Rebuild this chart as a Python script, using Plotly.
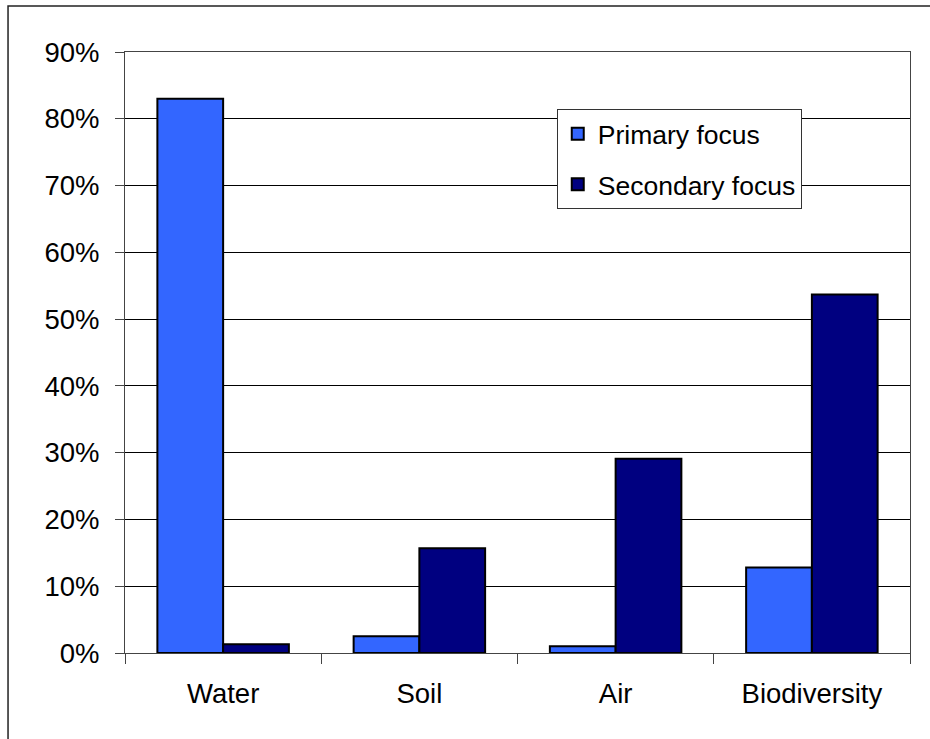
import plotly.graph_objects as go

categories = ["Water", "Soil", "Air", "Biodiversity"]
primary = [0.83, 0.025, 0.01, 0.128]
secondary = [0.013, 0.157, 0.291, 0.537]
y_ticks = [0, 0.1, 0.2, 0.3, 0.4, 0.5, 0.6, 0.7, 0.8, 0.9]
y_tick_text = ["0%", "10%", "20%", "30%", "40%", "50%", "60%", "70%", "80%", "90%"]

FONT = "Liberation Sans, Arial, sans-serif"

fig = go.Figure()
fig.add_trace(go.Bar(name="Primary focus", x=categories, y=primary,
                     marker=dict(color="#3366FF", line=dict(color="black", width=2)),
                     legendgroup="a"))
fig.add_trace(go.Bar(name="Secondary focus", x=categories, y=secondary,
                     marker=dict(color="#000080", line=dict(color="black", width=2)),
                     legendgroup="b"))

fig.update_layout(
    width=930, height=739,
    margin=dict(l=125, r=20, t=52, b=86),
    paper_bgcolor="white", plot_bgcolor="white",
    barmode="group", bargap=0.33, bargroupgap=0,
    font=dict(family=FONT, size=27, color="black"),
    showlegend=True,
    legend=dict(x=0.550, y=0.905, xanchor="left", yanchor="top",
                bgcolor="white", bordercolor="#333333", borderwidth=1,
                font=dict(size=26.5), traceorder="grouped", tracegroupgap=13,
                itemwidth=30),
    xaxis=dict(showline=True, linecolor="#444444", linewidth=1, mirror=True,
               ticks="outside", ticklen=10, tickcolor="#444444", tickson="boundaries",
               showgrid=False, tickfont=dict(size=27.5), ticklabelstandoff=16),
    yaxis=dict(range=[0, 0.9], tickvals=y_ticks, ticktext=y_tick_text,
               showline=True, linecolor="#444444", linewidth=1, mirror=True,
               ticks="outside", ticklen=9, tickcolor="#444444",
               showgrid=True, gridcolor="black", gridwidth=1,
               tickfont=dict(size=27.5), ticklabelstandoff=10, zeroline=False),
    shapes=[dict(type="rect", xref="paper", yref="paper",
                 x0=-0.149, x1=1.2, y0=-0.3, y1=1.0765,
                 line=dict(color="#222222", width=1.5), layer="below")],
)

fig.write_html("out.html", config={"displayModeBar": False},
               post_script="document.body.style.margin='0';")
